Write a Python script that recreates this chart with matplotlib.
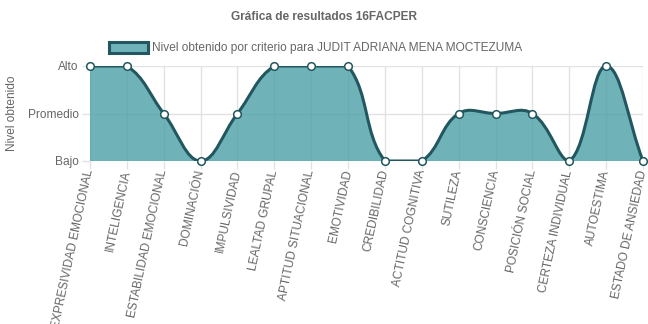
import numpy as np
import matplotlib as mpl
import matplotlib.pyplot as plt
from matplotlib.path import Path
from matplotlib.patches import PathPatch, Patch

criterios = [
    "EXPRESIVIDAD EMOCIONAL", "INTELIGENCIA", "ESTABILIDAD EMOCIONAL",
    "DOMINACIÓN", "IMPULSIVIDAD", "LEALTAD GRUPAL", "APTITUD SITUACIONAL",
    "EMOTIVIDAD", "CREDIBILIDAD", "ACTITUD COGNITIVA", "SUTILEZA",
    "CONSCIENCIA", "POSICIÓN SOCIAL", "CERTEZA INDIVIDUAL", "AUTOESTIMA",
    "ESTADO DE ANSIEDAD",
]
niveles = [2, 2, 1, 0, 1, 2, 2, 2, 0, 0, 1, 1, 1, 0, 2, 0]
nivel_labels = ["Bajo", "Promedio", "Alto"]

titulo = "Gráfica de resultados 16FACPER"
serie = "Nivel obtenido por criterio para JUDIT ADRIANA MENA MOCTEZUMA"

GRAY = "#666666"
LINE = "#22575f"
FILL = (75 / 255, 160 / 255, 168 / 255, 0.8)
GRID = "#e2e2e2"

mpl.rcParams.update({
    "font.family": ["Liberation Sans", "DejaVu Sans"],
    "font.size": 8.6,
    "text.color": GRAY,
})

W, H = 648, 324
fig = plt.figure(figsize=(W / 100, H / 100), dpi=100)
left, right, top, bottom = 90, 643, 66, 161
ax = fig.add_axes([left / W, 1 - bottom / H, (right - left) / W, (bottom - top) / H])

x = np.arange(len(niveles), dtype=float)
y = np.array(niveles, dtype=float)
ax.set_xlim(0, len(niveles) - 1)
ax.set_ylim(0, 2)

# spline like chart.js (tension 0.4), control points worked out in pixels
sx = (right - left) / (len(niveles) - 1)
sy = (bottom - top) / 2.0
px, py = x * sx, y * sy
tension = 0.4
cp_prev, cp_next = [], []
n = len(px)
for i in range(n):
    p0 = (px[max(i - 1, 0)], py[max(i - 1, 0)])
    p1 = (px[i], py[i])
    p2 = (px[min(i + 1, n - 1)], py[min(i + 1, n - 1)])
    d01 = np.hypot(p1[0] - p0[0], p1[1] - p0[1])
    d12 = np.hypot(p2[0] - p1[0], p2[1] - p1[1])
    tot = d01 + d12 if d01 + d12 else 1
    fa, fb = tension * d01 / tot, tension * d12 / tot
    dx, dy = p2[0] - p0[0], p2[1] - p0[1]
    cp_prev.append((p1[0] - fa * dx, p1[1] - fa * dy))
    cp_next.append((p1[0] + fb * dx, p1[1] + fb * dy))

def clamp(p):
    return (min(max(p[0], 0), px[-1]) / sx, min(max(p[1], 0), 2 * sy) / sy)

verts = [(x[0], y[0])]
codes = [Path.MOVETO]
for i in range(n - 1):
    verts += [clamp(cp_next[i]), clamp(cp_prev[i + 1]), (x[i + 1], y[i + 1])]
    codes += [Path.CURVE4] * 3
line_path = Path(verts, codes)
fill_path = Path(verts + [(x[-1], 0), (x[0], 0), (x[0], y[0])],
                 codes + [Path.LINETO, Path.LINETO, Path.CLOSEPOLY])

ax.add_patch(PathPatch(fill_path, facecolor=FILL, edgecolor="none", zorder=2))
ax.add_patch(PathPatch(line_path, facecolor="none", edgecolor=LINE, lw=2.2, zorder=3))
ax.plot(x, y, "o", ms=5.5, mfc="white", mec=LINE, mew=1.1, zorder=4, clip_on=False)

ax.set_xticks(x)
ax.set_xticklabels(criterios, rotation=78, ha="right", va="center",
                   rotation_mode="anchor")
ax.set_yticks([0, 1, 2])
ax.set_yticklabels(nivel_labels)
ax.tick_params(colors=GRID, labelcolor=GRAY, length=6, width=1, pad=2)
ax.tick_params(axis="x", pad=0.5)
ax.grid(True, color=GRID, lw=1, zorder=0)
ax.set_axisbelow(True)
for s in ax.spines.values():
    s.set_visible(False)
ax.axhline(0, color="#cfcfcf", lw=1, zorder=1)

fig.text(12 / W, 1 - 113 / H, "Nivel obtenido", rotation=90, ha="center", va="center")

fig.text(0.5, 1 - 17 / H, titulo, ha="center", va="center", weight="bold")
fig.legend(handles=[Patch(facecolor=FILL, edgecolor=LINE, lw=2.2)], labels=[serie],
           loc="center", bbox_to_anchor=(0.487, 1 - 48 / H), frameon=False,
           handlelength=3.3, handleheight=1.1, handletextpad=0.3, labelcolor=GRAY)

fig.savefig("out.png", dpi=100)
